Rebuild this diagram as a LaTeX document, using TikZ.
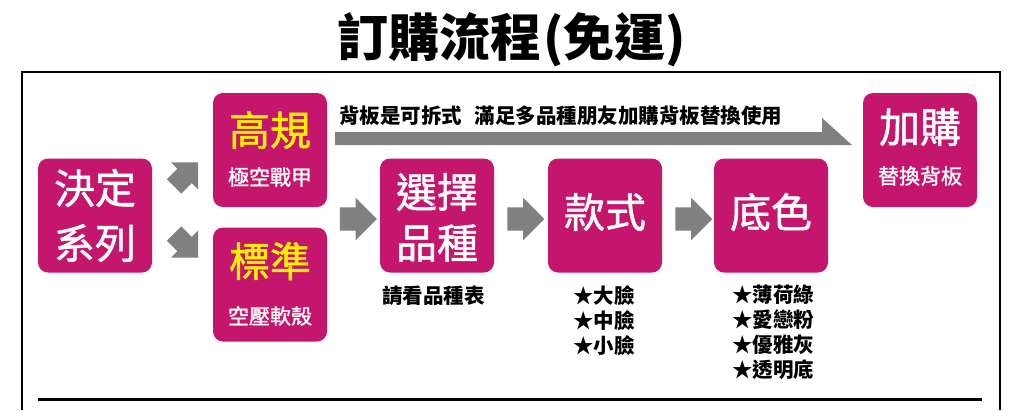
\documentclass[tikz,border=0pt]{standalone}
\usepackage{fontspec}
\setmainfont{Noto Sans CJK TC}
\newfontfamily\boxfont[FakeBold=1.2]{Noto Sans CJK TC}
\usetikzlibrary{shapes.arrows}
\definecolor{boxpink}{RGB}{196,22,108}
\definecolor{arrowgray}{RGB}{128,128,128}
\definecolor{wordyellow}{RGB}{255,240,0}
\tikzset{
  stepbox/.style={fill=boxpink, rounded corners=10pt, minimum width=114pt, minimum height=114pt, inner sep=0pt},
  bigword/.style={text=white, font=\boxfont\fontsize{41}{41}\selectfont, inner sep=0pt},
  smallword/.style={text=white, font=\boxfont\fontsize{21}{21}\selectfont, inner sep=0pt},
  note/.style={font=\bfseries\fontsize{20.5}{25}\selectfont, inner sep=0pt, anchor=north west, align=left},
  flowarrow/.style={single arrow, fill=arrowgray, inner xsep=0pt, inner ysep=11.5pt,
    single arrow head extend=9.5pt, minimum height=37pt},
  tiltarrow/.style={flowarrow, inner ysep=10pt, single arrow head extend=9pt, minimum height=34pt}
}
\begin{document}
\begin{tikzpicture}[x=1pt, y=-1pt]
\useasboundingbox (0,0) rectangle (1024,410);
% title and frame
\node[font=\bfseries\fontsize{51}{51}\selectfont, inner sep=0pt] (title) at (512,40) {訂購流程\kern2pt(免運)};
\draw[line width=2pt] (22,410) -- (22,72) -- (1000,72) -- (1000,410);
\draw[line width=3pt] (38,399) -- (982,399);
% boxes
\node[stepbox] (decide) at (95,215.5) {};
\node[bigword] (decidetop) at (95,188) {決定};
\node[bigword] (decidebot) at (95,243) {系列};
\node[stepbox] (gaogui) at (270,150) {};
\node[bigword, text=wordyellow] (gaoguiname) at (270,130) {高規};
\node[smallword] (gaoguisub) at (270,177) {極空戰甲};
\node[stepbox] (biaozhun) at (270,284.5) {};
\node[bigword, text=wordyellow] (biaozhunname) at (270,261) {標準};
\node[smallword] (biaozhunsub) at (270,316) {空壓軟殼};
\node[stepbox] (pick) at (437,215.5) {};
\node[bigword] (picktop) at (437,192) {選擇};
\node[bigword] (pickbot) at (437,243) {品種};
\node[stepbox] (kuan) at (605,215.5) {};
\node[bigword] (kuanname) at (605,212) {款式};
\node[stepbox] (dise) at (771,215.5) {};
\node[bigword] (disename) at (771,212) {底色};
\node[stepbox] (jiagou) at (920,150) {};
\node[bigword] (jiagouname) at (920,127) {加購};
\node[smallword] (jiagousub) at (920,176) {替換背板};
% arrows
\node[tiltarrow, rotate=45] (upper) at (182.5,178) {};
\node[tiltarrow, rotate=-45] (lower) at (182.5,242) {};
\node[flowarrow] (toPick) at (352.5,219) {};
\node[flowarrow] (toKuan) at (520,219) {};
\node[flowarrow] (toDise) at (688,219) {};
\fill[arrowgray] (335,132) -- (822,132) -- (822,118) -- (852,145) -- (335,145) -- cycle;
\node[font=\bfseries\fontsize{20.5}{20.5}\selectfont, inner sep=0pt, anchor=west] (backnote) at (339,116)
  {背板是可拆式\hspace{0.6em}滿足多品種朋友加購背板替換使用};
% notes under the boxes
\node[note] (picknote) at (382,286) {請看品種表};
\node[note] (kuannote) at (573,285) {★大臉\\★中臉\\★小臉};
\node[note] (disenote) at (732,285) {★薄荷綠\\★愛戀粉\\★優雅灰\\★透明底};
\end{tikzpicture}
\end{document}
